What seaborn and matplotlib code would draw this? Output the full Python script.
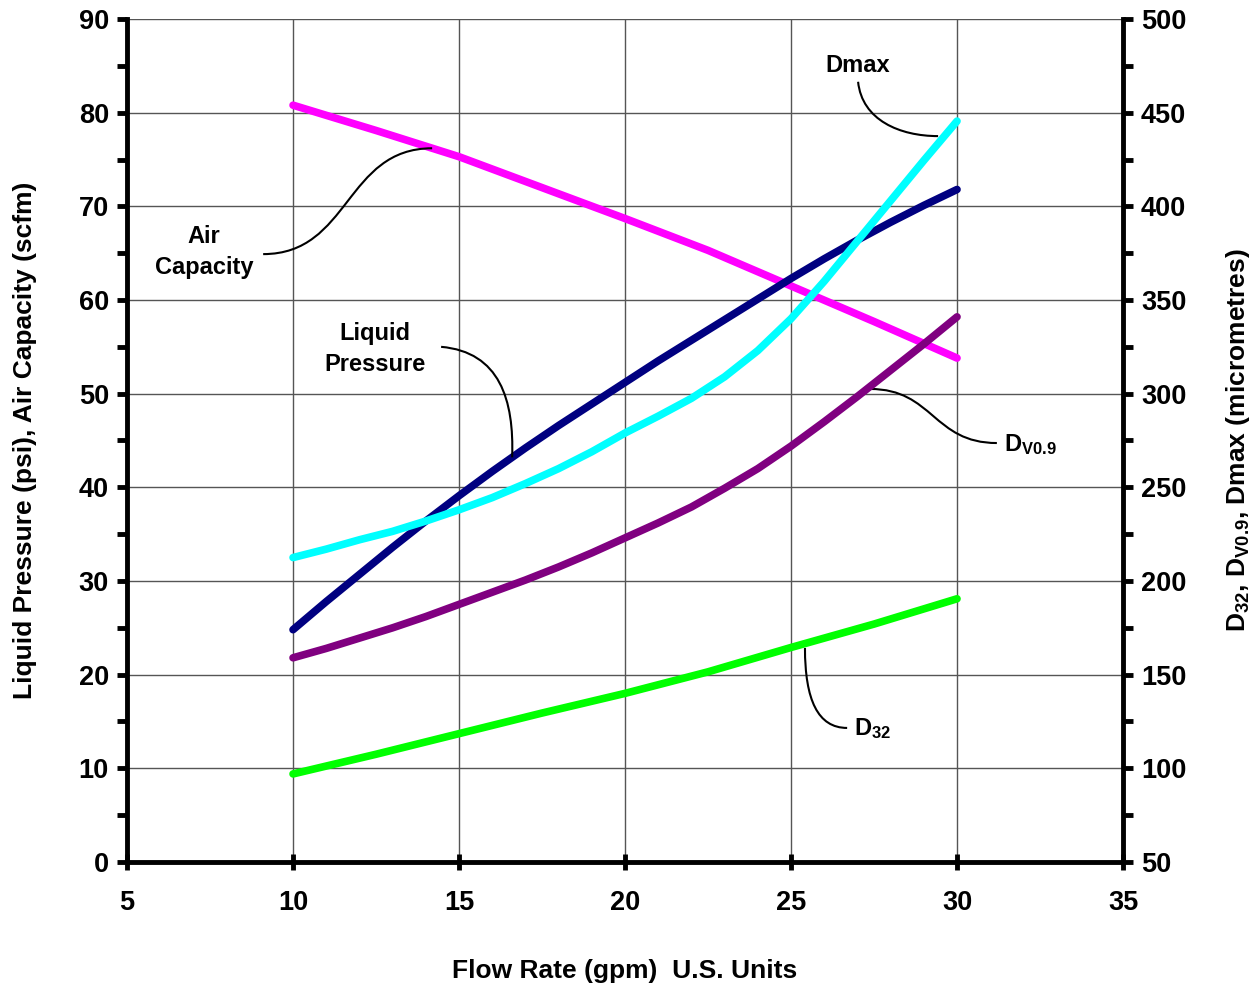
import matplotlib
matplotlib.use("Agg")
import matplotlib.pyplot as plt
import seaborn as sns
from matplotlib.path import Path
from matplotlib.patches import PathPatch
from matplotlib.ticker import MultipleLocator

# flow rate (gpm) at which the curves were read
flow = [10, 11, 12, 13, 14, 15, 16, 17, 18, 19, 20,
        21, 22, 23, 24, 25, 26, 27, 28, 29, 30]
flow_coarse = [10, 12.5, 15, 17.5, 20, 22.5, 25, 27.5, 30]

# left axis: psi / scfm
air_capacity = [80.8, 78.1, 75.3, 72.0, 68.7, 65.3, 61.5, 57.7, 53.8]
liquid_pressure = [24.8, 27.8, 30.7, 33.6, 36.4, 39.1, 41.7, 44.2, 46.6, 48.9, 51.2,
                   53.5, 55.7, 57.9, 60.1, 62.3, 64.4, 66.4, 68.3, 70.1, 71.8]

# right axis: micrometres
dmax = [212.5, 217, 222, 226.5, 232, 238, 244.5, 252, 260, 269, 279,
        288, 297.5, 309, 323, 340, 360, 381.5, 403, 424.5, 445.5]
dv09 = [159, 164, 169.5, 175, 181, 187.5, 194, 200.5, 207.5, 215, 223,
        231, 239.5, 249.5, 260, 272, 285, 298.5, 312.5, 326.5, 341]
d32 = [97, 107.5, 118.5, 129.5, 140, 151.5, 164.5, 177, 190.5]

sns.set_style("white")
plt.rcParams["font.family"] = ["Liberation Sans", "DejaVu Sans"]
plt.rcParams["font.weight"] = "bold"
plt.rcParams["mathtext.fontset"] = "custom"
plt.rcParams["mathtext.rm"] = "Liberation Sans:bold"
plt.rcParams["mathtext.bf"] = "Liberation Sans:bold"
plt.rcParams["mathtext.default"] = "bf"
for key in ("text.color", "axes.labelcolor", "xtick.color", "ytick.color"):
    plt.rcParams[key] = "black"

TICK_FS = 19.5
LABEL_FS = 19
NOTE_FS = 17

fig = plt.figure(figsize=(12.59, 9.86), dpi=100)
ax = fig.add_axes([0.1009, 0.1258, 0.7911, 0.8549])
ax2 = ax.twinx()

line_kw = dict(linewidth=5.5, solid_capstyle="round", legend=False)
sns.lineplot(x=flow_coarse, y=air_capacity, color="#FF00FF", ax=ax, **line_kw)
sns.lineplot(x=flow, y=liquid_pressure, color="#000080", ax=ax, **line_kw)
sns.lineplot(x=flow, y=dmax, color="#00FFFF", ax=ax2, **line_kw)
sns.lineplot(x=flow, y=dv09, color="#800080", ax=ax2, **line_kw)
sns.lineplot(x=flow_coarse, y=d32, color="#00FF00", ax=ax2, **line_kw)

ax.set_xlim(5, 35)
ax.set_ylim(0, 90)
ax2.set_ylim(50, 500)
ax.xaxis.set_major_locator(MultipleLocator(5))
ax.yaxis.set_major_locator(MultipleLocator(10))
ax.yaxis.set_minor_locator(MultipleLocator(5))
ax2.yaxis.set_major_locator(MultipleLocator(50))
ax2.yaxis.set_minor_locator(MultipleLocator(25))

ax.grid(True, which="major", color="#555555", linewidth=1)
ax.set_axisbelow(True)

for a in (ax, ax2):
    a.spines["top"].set_visible(False)
    for s in ("left", "right", "bottom"):
        a.spines[s].set_linewidth(3.5)
        a.spines[s].set_color("black")
ax.spines["right"].set_visible(False)
ax2.spines["left"].set_visible(False)
ax2.spines["bottom"].set_visible(False)

ax.tick_params(axis="x", which="major", direction="inout", length=12, width=3.5,
               labelsize=TICK_FS, pad=14, bottom=True)
ax.tick_params(axis="y", which="both", direction="out", length=7, width=3.5,
               labelsize=TICK_FS, pad=6, left=True)
ax2.tick_params(axis="y", which="both", direction="out", length=7, width=3.5,
                labelsize=TICK_FS, pad=6, right=True)
for lab in ax.get_xticklabels() + ax.get_yticklabels() + ax2.get_yticklabels():
    lab.set_fontweight("bold")

ax.set_xlabel("Flow Rate (gpm)  U.S. Units", fontsize=LABEL_FS, fontweight="bold",
              labelpad=31)
ax.set_ylabel("Liquid Pressure (psi), Air Capacity (scfm)", fontsize=LABEL_FS,
              fontweight="bold", labelpad=30)
ax2.set_ylabel("D$_{32}$, D$_{V0.9}$, Dmax (micrometres)", fontsize=LABEL_FS,
               fontweight="bold", labelpad=27)


def leader(p0, p1, p2, p3):
    path = Path([p0, p1, p2, p3], [Path.MOVETO, Path.CURVE4, Path.CURVE4, Path.CURVE4])
    ax.add_patch(PathPatch(path, facecolor="none", edgecolor="black", linewidth=1.5,
                           zorder=5))


txt = dict(fontsize=NOTE_FS, fontweight="bold", zorder=6)
ax.text(27.02, 85.0, "Dmax", ha="center", va="center", **txt)
leader((27.02, 83.3), (27.14, 79.2), (28.28, 77.5), (29.43, 77.5))

ax.text(7.32, 65.1, "Air\nCapacity", ha="center", va="center", linespacing=1.45, **txt)
leader((9.10, 64.9), (11.72, 64.9), (11.57, 76.2), (14.19, 76.2))

ax.text(12.47, 54.8, "Liquid\nPressure", ha="center", va="center", linespacing=1.45, **txt)
leader((14.46, 55.0), (16.23, 54.45), (16.66, 49.3), (16.60, 43.2))

ax.text(31.4, 44.6, r"D$_{V0.9}$", ha="left", va="center", **txt)
leader((27.38, 50.5), (29.28, 50.5), (29.28, 44.73), (31.20, 44.73))

ax.text(26.9, 14.2, r"D$_{32}$", ha="left", va="center", **txt)
leader((25.42, 22.85), (25.42, 17.29), (25.81, 14.31), (26.69, 14.31))

fig.savefig("out.png", dpi=100)
